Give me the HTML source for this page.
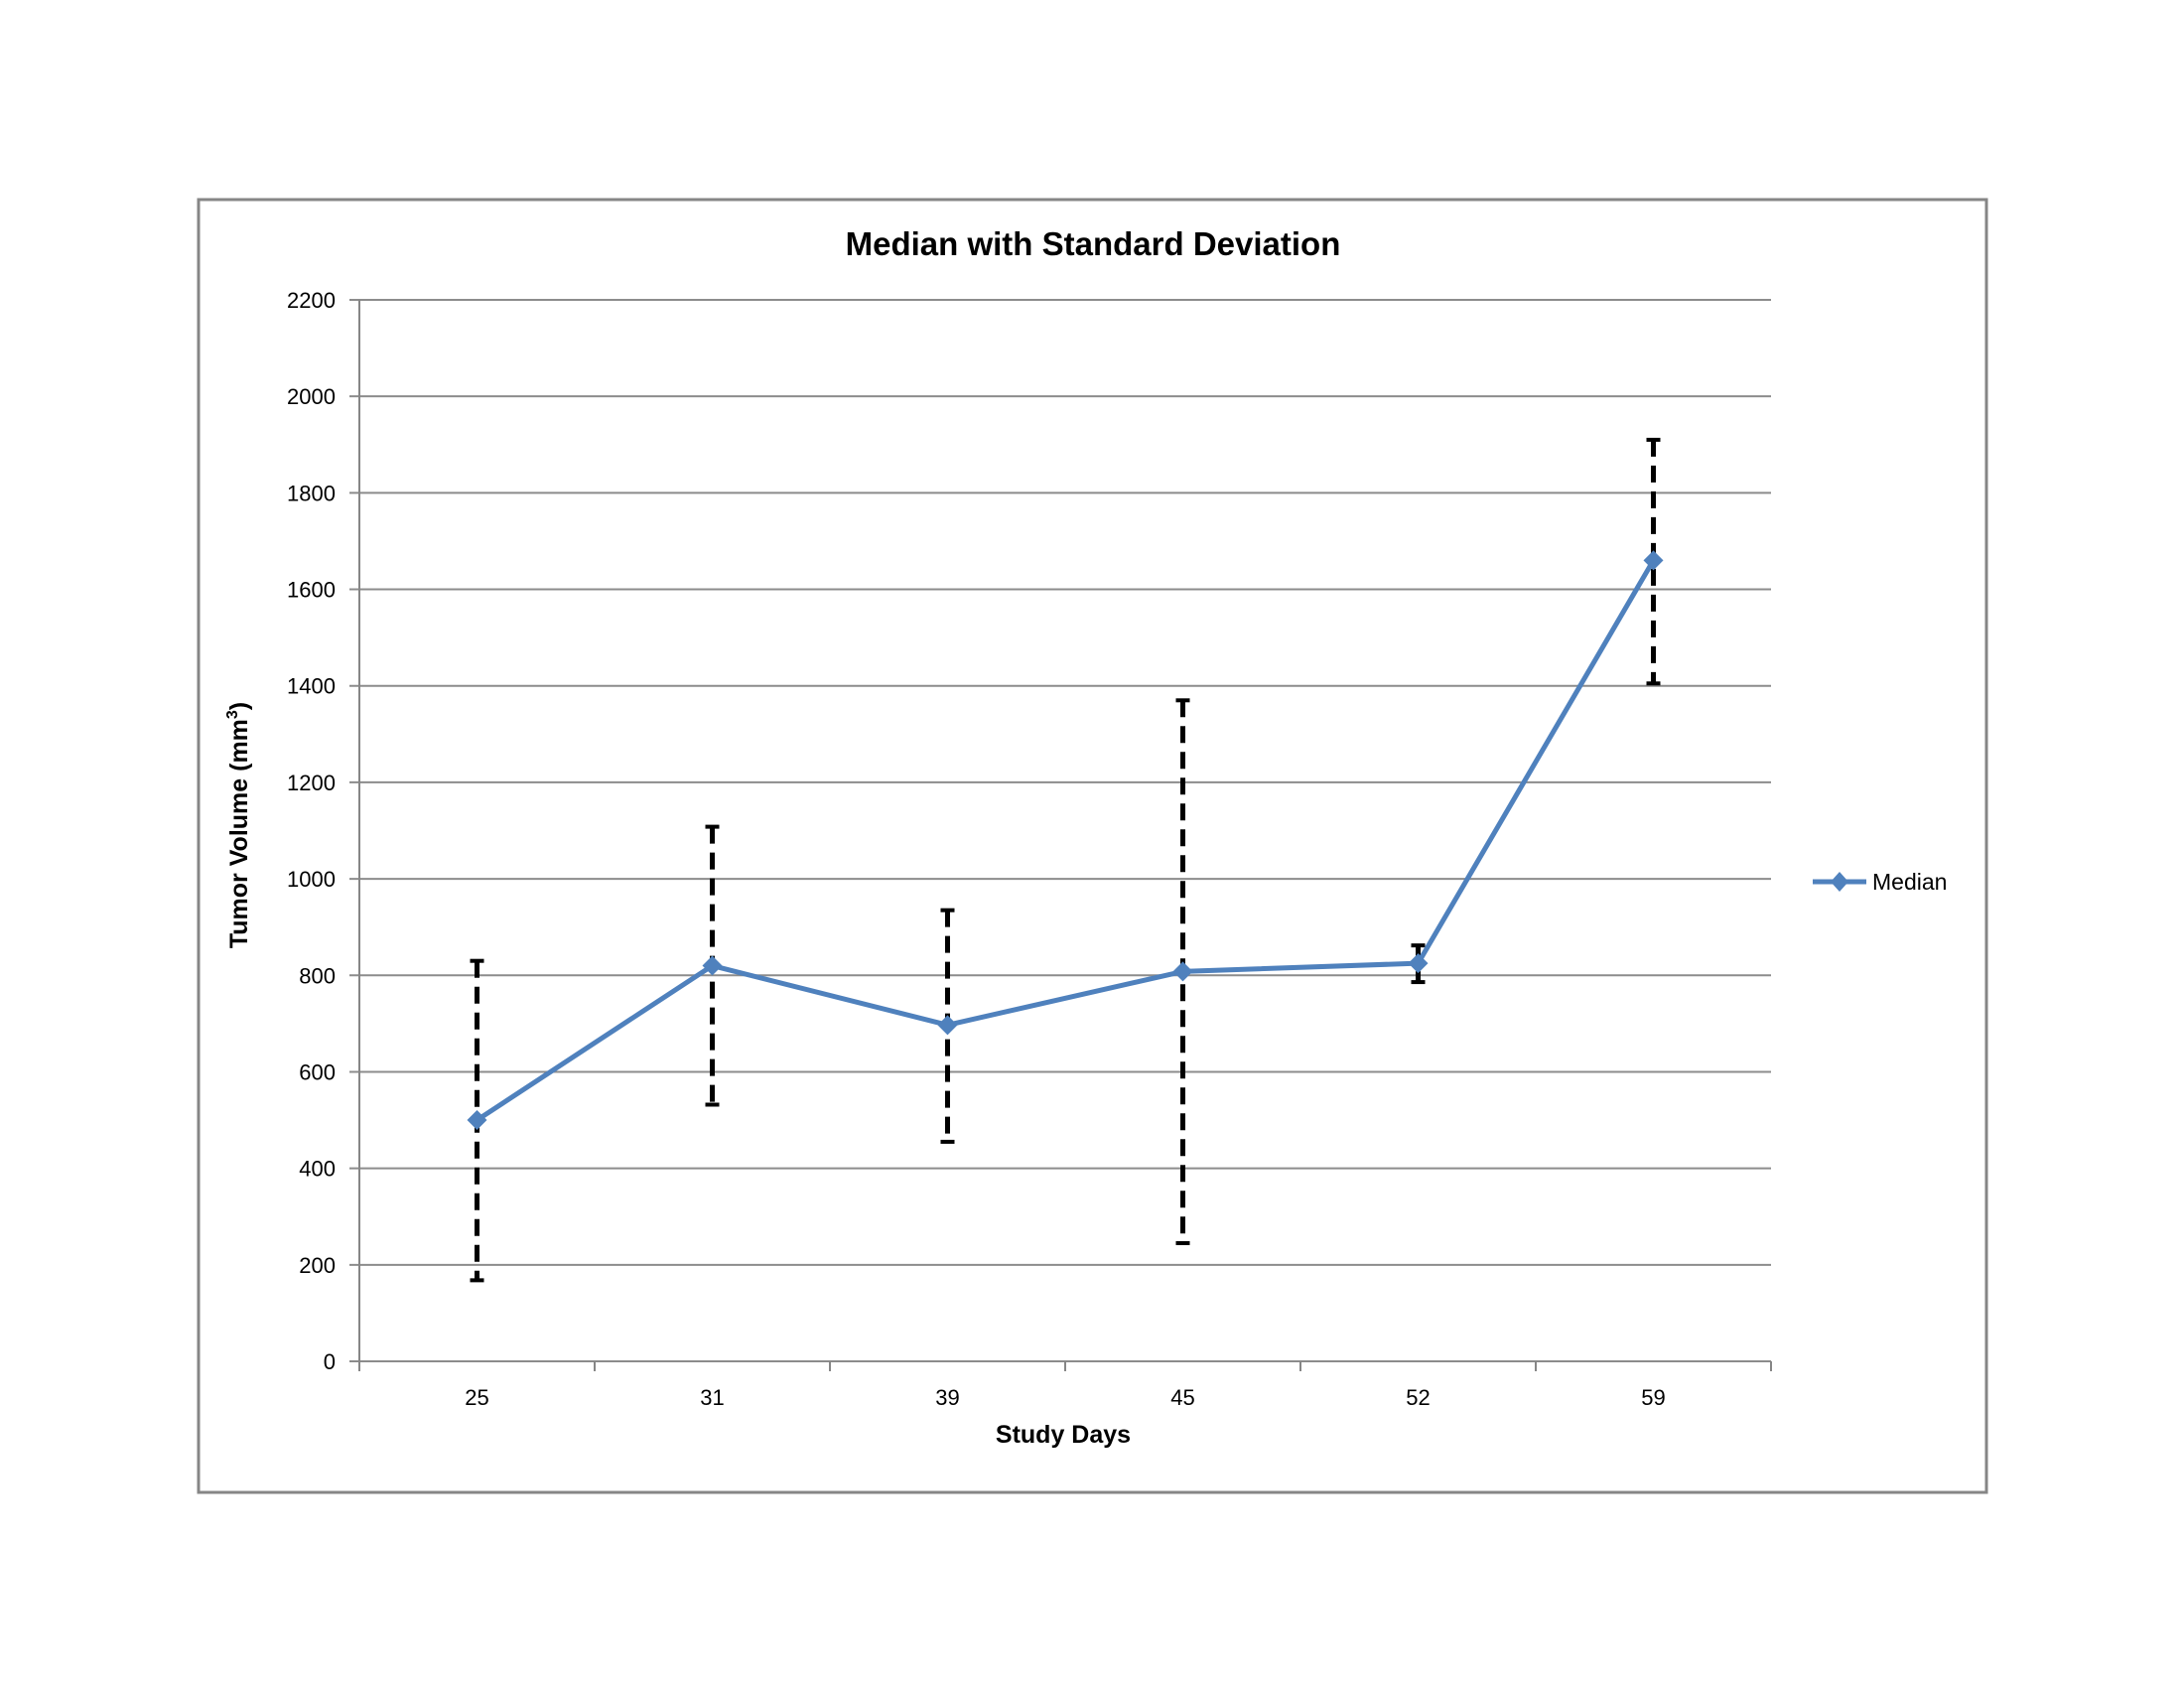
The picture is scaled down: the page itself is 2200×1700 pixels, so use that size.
<!DOCTYPE html>
<html><head><meta charset="utf-8"><style>
html,body{margin:0;padding:0;background:#fff;}
svg{display:block;font-family:"Liberation Sans",sans-serif;}
</style></head><body>
<svg id="chart" width="2200" height="1700" viewBox="0 0 2200 1700">
<rect x="200" y="201" width="1801" height="1302" fill="#fff" stroke="#868686" stroke-width="3"/>
<text x="1101" y="257" text-anchor="middle" font-size="33" font-weight="bold">Median with Standard Deviation</text>
<g id="grid"></g><g id="axes"></g><g id="errs"></g><g id="series"></g>
<text x="1071" y="1453" text-anchor="middle" font-size="25" font-weight="bold">Study Days</text>
<text transform="translate(249,831) rotate(-90)" text-anchor="middle" font-size="25" font-weight="bold">Tumor Volume (mm<tspan font-size="16" dy="-10">3</tspan><tspan dy="10">)</tspan></text>
<g>
<line x1="1826" y1="888" x2="1880" y2="888" stroke="#4F81BD" stroke-width="5"/>
<path d="M1853 878 L1862 888 L1853 898 L1844 888Z" fill="#4F81BD"/>
<text x="1886" y="896" font-size="23">Median</text>
</g>
</svg>
<script>
const categories=["25","31","39","45","52","59"];
const medians=[500,820,697,808,825,1660];
const errHigh=[830,1108,935,1370,862,1910];
const errLow=[168,532,455,245,786,1405];
const yTicks=[0,200,400,600,800,1000,1200,1400,1600,1800,2000,2200];
const NS="http://www.w3.org/2000/svg";
const X0=362,X1=1784,Y0=1371,Y1=302,YMAX=2200;
const bw=(X1-X0)/categories.length;
const xs=i=>X0+bw*(i+0.5);
const ys=v=>Y0-(v/YMAX)*(Y0-Y1);
function mk(tag,attrs,parent){const e=document.createElementNS(NS,tag);for(const k in attrs)e.setAttribute(k,attrs[k]);document.getElementById(parent).appendChild(e);return e;}
yTicks.forEach(t=>{
  const g=mk('line',{x1:X0-10,x2:X1,y1:ys(t),y2:ys(t),stroke:'#8c8c8c','stroke-width':2},'grid');
  
  
  const l=mk('text',{x:X0-24,y:ys(t)+8,'text-anchor':'end','font-size':22},'axes');
  l.textContent=t;
  
  
});
const ya=mk('line',{x1:X0,x2:X0,y1:Y1,y2:Y0,stroke:'#868686','stroke-width':2},'axes');


for(let i=0;i<=categories.length;i++){
  const tk=mk('line',{x1:X0+bw*i,x2:X0+bw*i,y1:Y0,y2:Y0+10,stroke:'#868686','stroke-width':2},'axes');
  
  
}
categories.forEach((c,i)=>{
  const l=mk('text',{x:xs(i),y:Y0+44,'text-anchor':'middle','font-size':22},'axes');
  l.textContent=c;
  
  
  const e=mk('line',{x1:xs(i),x2:xs(i),y1:ys(errHigh[i]),y2:ys(errLow[i]),stroke:'#000','stroke-width':5,'stroke-dasharray':'17,9'},'errs');
  
  
  [errHigh[i],errLow[i]].forEach(v=>{
    const cp=mk('line',{x1:xs(i)-7,x2:xs(i)+7,y1:ys(v),y2:ys(v),stroke:'#000','stroke-width':4},'errs');
    
    
  });
});
const pts=medians.map((v,i)=>xs(i)+','+ys(v)).join(' ');
const pl=mk('polyline',{points:pts,fill:'none',stroke:'#4F81BD','stroke-width':5,'stroke-linejoin':'round'},'series');


medians.forEach((v,i)=>{
  const x=xs(i),y=ys(v);
  const m=mk('path',{d:`M${x} ${y-10} L${x+10} ${y} L${x} ${y+10} L${x-10} ${y}Z`,fill:'#4F81BD'},'series');
  
  
});
</script>
</body></html>
